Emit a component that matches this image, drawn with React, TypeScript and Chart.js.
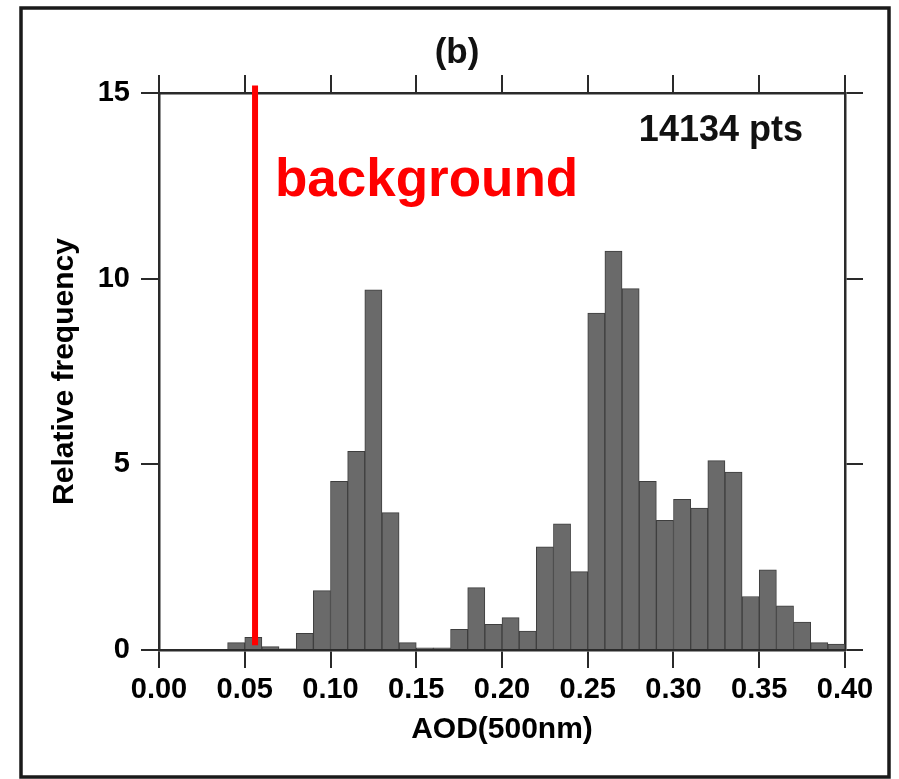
import React, { useEffect, useRef } from 'react';
import { Chart, registerables } from 'chart.js';

Chart.register(...registerables);

// ---- data ----
const binCenters = [
  0.005, 0.015, 0.025, 0.035, 0.045, 0.055, 0.065, 0.075, 0.085, 0.095,
  0.105, 0.115, 0.125, 0.135, 0.145, 0.155, 0.165, 0.175, 0.185, 0.195,
  0.205, 0.215, 0.225, 0.235, 0.245, 0.255, 0.265, 0.275, 0.285, 0.295,
  0.305, 0.315, 0.325, 0.335, 0.345, 0.355, 0.365, 0.375, 0.385, 0.395,
];
const relativeFrequency = [
  0, 0, 0, 0, 0.2, 0.34, 0.09, 0.03, 0.45, 1.6,
  4.54, 5.35, 9.7, 3.7, 0.2, 0.06, 0.06, 0.56, 1.68, 0.69,
  0.87, 0.51, 2.78, 3.4, 2.11, 9.07, 10.74, 9.73, 4.54, 3.49,
  4.06, 3.82, 5.1, 4.79, 1.44, 2.16, 1.19, 0.75, 0.2, 0.16,
];
const xTickLabels = ['0.00', '0.05', '0.10', '0.15', '0.20', '0.25', '0.30', '0.35', '0.40'];
const yTickLabels = ['0', '5', '10', '15'];
const backgroundAOD = 0.056;
const backgroundLineY = [0.13, 15.2];
const pointCountLabel = '14134 pts';
const panelLabel = '(b)';
const annotationText = 'background';
const xTitle = 'AOD(500nm)';
const yTitle = 'Relative frequency';

const FONT = '"Liberation Sans", Arial, Helvetica, sans-serif';
const AXIS_COLOR = '#2a2a2a';

const overlayPlugin = {
  id: 'overlay',
  afterDraw(chart: any) {
    const { ctx, scales } = chart;
    ctx.save();
    // outer frame
    ctx.strokeStyle = '#1a1a1a';
    ctx.lineWidth = 3.5;
    ctx.strokeRect(21, 8, 868, 769);
    // panel label
    ctx.fillStyle = '#111';
    ctx.textBaseline = 'alphabetic';
    ctx.textAlign = 'center';
    ctx.font = `bold 35px ${FONT}`;
    ctx.fillText(panelLabel, 457, 63);
    // point count
    ctx.textAlign = 'right';
    ctx.font = `bold 36px ${FONT}`;
    ctx.fillText(pointCountLabel, scales.x.getPixelForValue(0.3755), scales.y.getPixelForValue(13.71));
    // background annotation
    ctx.fillStyle = '#ff0000';
    ctx.textAlign = 'left';
    ctx.font = `bold 53px ${FONT}`;
    ctx.fillText(annotationText, scales.x.getPixelForValue(0.0676), scales.y.getPixelForValue(12.23));
    ctx.restore();
  },
};

export default function App() {
  const ref = useRef<HTMLCanvasElement | null>(null);

  useEffect(() => {
    document.body.style.margin = '0';
    const canvas = ref.current;
    if (!canvas) return;

    const tickFont = { family: FONT, size: 29, weight: 'bold' as const };
    const gridOpts = {
      drawOnChartArea: false,
      drawTicks: true,
      offset: false,
      tickLength: 18,
      color: AXIS_COLOR,
      lineWidth: 2,
    };
    const borderOpts = { display: true, color: AXIS_COLOR, width: 2.5 };

    const chart = new Chart(canvas, {
      type: 'bar',
      data: {
        datasets: [
          {
            type: 'line',
            label: 'background',
            data: backgroundLineY.map((y) => ({ x: backgroundAOD, y })),
            borderColor: '#ff0000',
            borderWidth: 6,
            borderCapStyle: 'butt',
            pointRadius: 0,
            fill: false,
            clip: false as any,
            order: 0,
            xAxisID: 'x',
            yAxisID: 'y',
          } as any,
          {
            type: 'bar',
            label: 'Relative frequency',
            data: binCenters.map((x, i) => ({ x, y: relativeFrequency[i] })),
            backgroundColor: '#6a6a6a',
            borderColor: '#3e3e3e',
            borderWidth: 1,
            barPercentage: 1,
            categoryPercentage: 1,
            order: 1,
            xAxisID: 'x',
            yAxisID: 'y',
          } as any,
        ],
      },
      options: {
        animation: false,
        responsive: false,
        maintainAspectRatio: false,
        layout: { padding: 0 },
        plugins: {
          legend: { display: false },
          tooltip: { enabled: false },
          title: { display: false },
        },
        scales: {
          x: {
            type: 'linear',
            position: 'bottom',
            min: 0,
            max: 0.4,
            offset: false,
            grid: gridOpts,
            border: borderOpts,
            ticks: {
              stepSize: 0.05,
              autoSkip: false,
              maxRotation: 0,
              padding: 5,
              color: '#000',
              font: tickFont,
              callback: (_v: any, i: number) => xTickLabels[i],
            },
            title: {
              display: true,
              text: xTitle,
              color: '#000',
              font: { family: FONT, size: 30, weight: 'bold' },
              padding: { top: 0, bottom: 31 },
            },
            afterFit: (s: any) => {
              s.height = 129;
            },
          },
          x2: {
            type: 'linear',
            position: 'top',
            min: 0,
            max: 0.4,
            offset: false,
            grid: gridOpts,
            border: borderOpts,
            ticks: { stepSize: 0.05, display: false },
            afterFit: (s: any) => {
              s.height = 93;
            },
          },
          y: {
            type: 'linear',
            position: 'left',
            min: 0,
            max: 15,
            grid: gridOpts,
            border: borderOpts,
            ticks: {
              stepSize: 5,
              padding: 11,
              color: '#000',
              font: tickFont,
              callback: (_v: any, i: number) => yTickLabels[i],
            },
            title: {
              display: true,
              text: yTitle,
              color: '#000',
              font: { family: FONT, size: 30, weight: 'bold' },
              padding: { top: 47, bottom: 0 },
            },
            afterFit: (s: any) => {
              s.width = 159;
            },
          },
          y2: {
            type: 'linear',
            position: 'right',
            min: 0,
            max: 15,
            grid: gridOpts,
            border: borderOpts,
            ticks: { stepSize: 5, display: false },
            afterFit: (s: any) => {
              s.width = 54;
            },
          },
        },
      } as any,
      plugins: [overlayPlugin],
    });

    return () => {
      chart.destroy();
    };
  }, []);

  return (
    <div style={{ width: 899, height: 779, position: 'relative', background: '#fff' }}>
      <canvas ref={ref} width={899} height={779} style={{ display: 'block' }} />
    </div>
  );
}
